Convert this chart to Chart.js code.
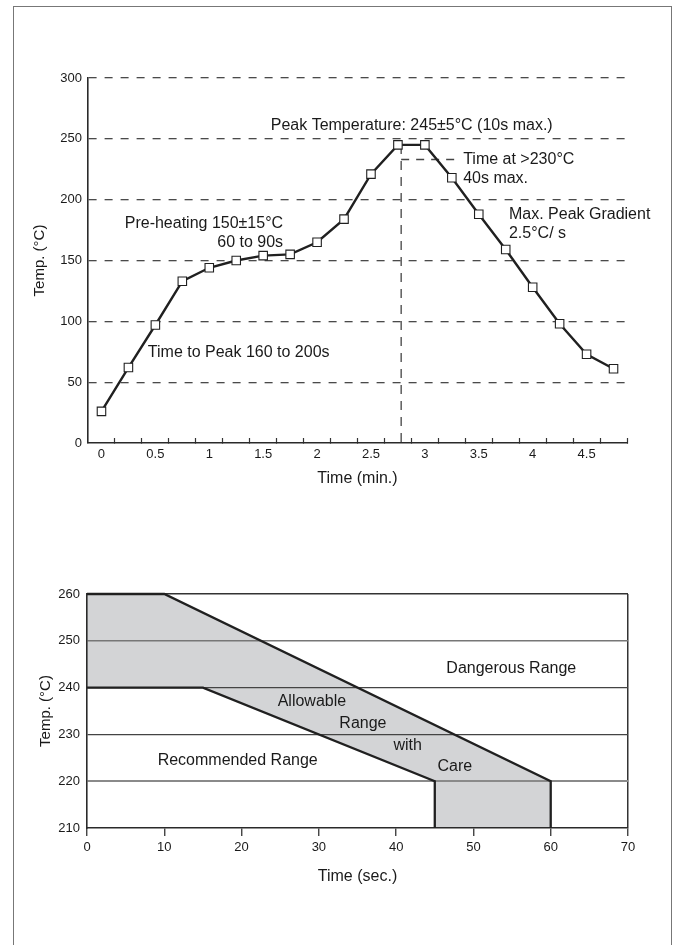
<!DOCTYPE html>
<html>
<head>
<meta charset="utf-8">
<title>Reflow profile</title>
<script src="https://cdn.jsdelivr.net/npm/chart.js@4.4.1/dist/chart.umd.min.js"></script>
<style>
  html, body { margin: 0; padding: 0; background: #fff; }
  #page { position: relative; width: 680px; height: 945px; overflow: hidden; }
  #frame { position: absolute; left: 13px; top: 6px; width: 657px; height: 980px; border: 1.5px solid #777; border-bottom: none; }
  .box { position: absolute; left: 0; width: 680px; }
  #topBox { top: 0; height: 500px; }
  #botBox { top: 540px; height: 360px; }
</style>
</head>
<body>
<div id="page">
  <div id="frame"></div>
  <div class="box" id="topBox"><canvas id="profileChart"></canvas></div>
  <div class="box" id="botBox"><canvas id="rangeChart"></canvas></div>
</div>
<script>
(function () {
  "use strict";

  // ── 상단: 리플로우 프로파일 (min / °C) ─────────────────────
  var TIME_MIN = [0, 0.25, 0.5, 0.75, 1, 1.25, 1.5, 1.75, 2, 2.25, 2.5, 2.75, 3, 3.25, 3.5, 3.75, 4, 4.25, 4.5, 4.75];
  var TEMP_C = [26, 62, 97, 133, 144, 150, 154, 155, 165, 184, 221, 245, 245, 218, 188, 159, 128, 98, 73, 61];
  var PEAK_LINE_TIME = [2.78, 2.78];
  var PEAK_LINE_TEMP = [245, 0];
  var LIMIT_LINE_TIME = [2.78, 3.3];
  var LIMIT_LINE_TEMP = [233, 233];

  // ── 하단: 허용 범위 (sec / °C) ────────────────────────────
  var UPPER_SEC = [0, 10, 60, 60];
  var UPPER_TEMP = [260, 260, 220, 210];
  var LOWER_SEC = [0, 15, 45, 45];
  var LOWER_TEMP = [240, 240, 220, 210];

  var TEXT = "#1a1a1a";
  var LINE = "#202020";
  var NONE = "rgba(0,0,0,0)";

  Chart.defaults.font.family = "'Liberation Sans', Arial, Helvetica, sans-serif";
  Chart.defaults.color = TEXT;

  function pts(xs, ys) {
    return xs.map(function (x, i) { return { x: x, y: ys[i] }; });
  }

  // 주석 텍스트 (데이터 좌표 기준)
  var NOTES_TOP = [
    { text: "Peak Temperature: 245\u00b15\u00b0C (10s max.)", x: 1.57, y: 261, align: "left" },
    { text: "Time at >230\u00b0C", x: 3.355, y: 233, align: "left" },
    { text: "40s max.", x: 3.355, y: 217.5, align: "left" },
    { text: "Max. Peak Gradient", x: 3.78, y: 188, align: "left" },
    { text: "2.5\u00b0C/ s", x: 3.78, y: 172.5, align: "left" },
    { text: "Pre-heating 150\u00b115\u00b0C", x: 1.685, y: 180.5, align: "right" },
    { text: "60 to 90s", x: 1.685, y: 164.5, align: "right" },
    { text: "Time to Peak 160 to 200s", x: 0.43, y: 74, align: "left" }
  ];
  var NOTES_BOT = [
    { text: "Dangerous Range", x: 54.9, y: 244.1, align: "center" },
    { text: "Allowable", x: 29.1, y: 237, align: "center" },
    { text: "Range", x: 35.7, y: 232.4, align: "center" },
    { text: "with", x: 41.5, y: 227.7, align: "center" },
    { text: "Care", x: 47.6, y: 223.2, align: "center" },
    { text: "Recommended Range", x: 19.5, y: 224.5, align: "center" }
  ];

  function notesPlugin(notes) {
    return {
      id: "notes",
      afterDatasetsDraw: function (chart) {
        var ctx = chart.ctx;
        var xs = chart.scales.x;
        var ys = chart.scales.y;
        ctx.save();
        ctx.font = "16px 'Liberation Sans', Arial, sans-serif";
        ctx.fillStyle = TEXT;
        ctx.textBaseline = "middle";
        notes.forEach(function (n) {
          ctx.textAlign = n.align;
          ctx.fillText(n.text, xs.getPixelForValue(n.x), ys.getPixelForValue(n.y));
        });
        ctx.restore();
      }
    };
  }

  // ── 상단 차트 ────────────────────────────────────────────
  new Chart(document.getElementById("profileChart"), {
    type: "line",
    data: {
      datasets: [
        {
          data: pts(TIME_MIN, TEMP_C),
          borderColor: LINE,
          borderWidth: 2.4,
          tension: 0,
          pointStyle: "rect",
          pointRadius: 6,
          pointBackgroundColor: "#fff",
          pointBorderColor: LINE,
          pointBorderWidth: 1.1,
          order: 0
        },
        {
          data: pts(PEAK_LINE_TIME, PEAK_LINE_TEMP),
          borderColor: "#444",
          borderWidth: 1.3,
          borderDash: [9, 7],
          pointRadius: 0,
          order: 2
        },
        {
          data: pts(LIMIT_LINE_TIME, LIMIT_LINE_TEMP),
          borderColor: "#444",
          borderWidth: 1.3,
          borderDash: [8, 7],
          pointRadius: 0,
          order: 2
        }
      ]
    },
    options: {
      responsive: true,
      maintainAspectRatio: false,
      animation: false,
      events: [],
      layout: { padding: { left: 0, top: 78, right: 53, bottom: 0 } },
      plugins: { legend: { display: false }, tooltip: { enabled: false } },
      scales: {
        x: {
          type: "linear",
          min: -0.125,
          max: 4.875,
          afterBuildTicks: function (s) {
            var t = [];
            for (var k = -1; k <= 39; k++) t.push({ value: k * 0.125 });
            s.ticks = t;
          },
          afterFit: function (s) { s.height = 57; },
          ticks: {
            autoSkip: false,
            maxRotation: 0,
            padding: 9,
            color: TEXT,
            font: { size: 13 },
            callback: function (v) {
              var k = Math.round(v / 0.125);
              return k >= 0 && k % 4 === 0 ? String(v) : "";
            }
          },
          grid: {
            drawOnChartArea: false,
            drawTicks: true,
            tickLength: -5,
            tickWidth: 1.2,
            tickColor: function (c) {
              var k = Math.round(c.tick.value / 0.125);
              return k > 0 && k % 2 !== 0 ? "#333" : NONE;
            }
          },
          border: { color: "#2a2a2a", width: 1.6 },
          title: { display: true, text: "Time (min.)", color: TEXT, font: { size: 16 }, padding: { top: 0, bottom: 12 } }
        },
        y: {
          min: 0,
          max: 300,
          afterFit: function (s) { s.width = 88; },
          ticks: { stepSize: 50, padding: 6, color: TEXT, font: { size: 13 } },
          grid: {
            drawTicks: false,
            lineWidth: 1.3,
            color: function (c) { return c.tick.value === 0 ? NONE : "#4a4a4a"; }
          },
          border: { color: "#2a2a2a", width: 1.6, dash: [8, 8] },
          title: { display: true, text: "Temp. (\u00b0C)", color: TEXT, font: { size: 15 }, padding: { top: 31, bottom: 0 } }
        }
      }
    },
    plugins: [notesPlugin(NOTES_TOP)]
  });

  // ── 하단 차트 ────────────────────────────────────────────
  var GRID_COLOR = { 260: "#333", 250: "#777", 240: "#444", 230: "#444", 220: "#8a8a8a", 210: NONE };
  var GRID_WIDTH = { 260: 1.5, 250: 1.6, 240: 1.2, 230: 1.2, 220: 2, 210: 1 };

  var polySec = UPPER_SEC.concat(LOWER_SEC.slice().reverse());
  var polyTemp = UPPER_TEMP.concat(LOWER_TEMP.slice().reverse());

  new Chart(document.getElementById("rangeChart"), {
    type: "line",
    data: {
      datasets: [
        {
          data: pts(polySec, polyTemp),
          fill: "shape",
          backgroundColor: "#d3d4d6",
          borderColor: NONE,
          borderWidth: 0,
          pointRadius: 0,
          tension: 0,
          order: 3
        },
        {
          data: pts(UPPER_SEC, UPPER_TEMP),
          borderColor: LINE,
          borderWidth: 2.3,
          pointRadius: 0,
          tension: 0,
          clip: false,
          order: 1
        },
        {
          data: pts(LOWER_SEC, LOWER_TEMP),
          borderColor: LINE,
          borderWidth: 2.3,
          pointRadius: 0,
          tension: 0,
          clip: false,
          order: 1
        }
      ]
    },
    options: {
      responsive: true,
      maintainAspectRatio: false,
      animation: false,
      events: [],
      layout: { padding: { left: 0, top: 54, right: 52, bottom: 0 } },
      plugins: {
        legend: { display: false },
        tooltip: { enabled: false },
        filler: { drawTime: "beforeDraw" }
      },
      scales: {
        x: {
          type: "linear",
          min: 0,
          max: 70,
          afterFit: function (s) { s.height = 72; },
          ticks: { stepSize: 10, padding: 4, color: TEXT, font: { size: 13 }, maxRotation: 0 },
          grid: {
            drawOnChartArea: true,
            lineWidth: 1.5,
            color: function (c) { return c.tick.value === 70 ? "#333" : NONE; },
            drawTicks: true,
            tickLength: 8,
            tickWidth: 1.3,
            tickColor: "#333"
          },
          border: { color: "#2a2a2a", width: 1.6 },
          title: { display: true, text: "Time (sec.)", color: TEXT, font: { size: 16 }, padding: { top: 0, bottom: 14 } }
        },
        y: {
          min: 210,
          max: 260,
          afterFit: function (s) { s.width = 87; },
          ticks: { stepSize: 10, padding: 7, color: TEXT, font: { size: 13 } },
          grid: {
            drawTicks: false,
            color: function (c) { return GRID_COLOR[c.tick.value] || "#555"; },
            lineWidth: function (c) { return GRID_WIDTH[c.tick.value] || 1; }
          },
          border: { color: "#2a2a2a", width: 1.6 },
          title: { display: true, text: "Temp. (\u00b0C)", color: TEXT, font: { size: 15 }, padding: { top: 37, bottom: 0 } }
        }
      }
    },
    plugins: [notesPlugin(NOTES_BOT)]
  });
})();
</script>
</body>
</html>
